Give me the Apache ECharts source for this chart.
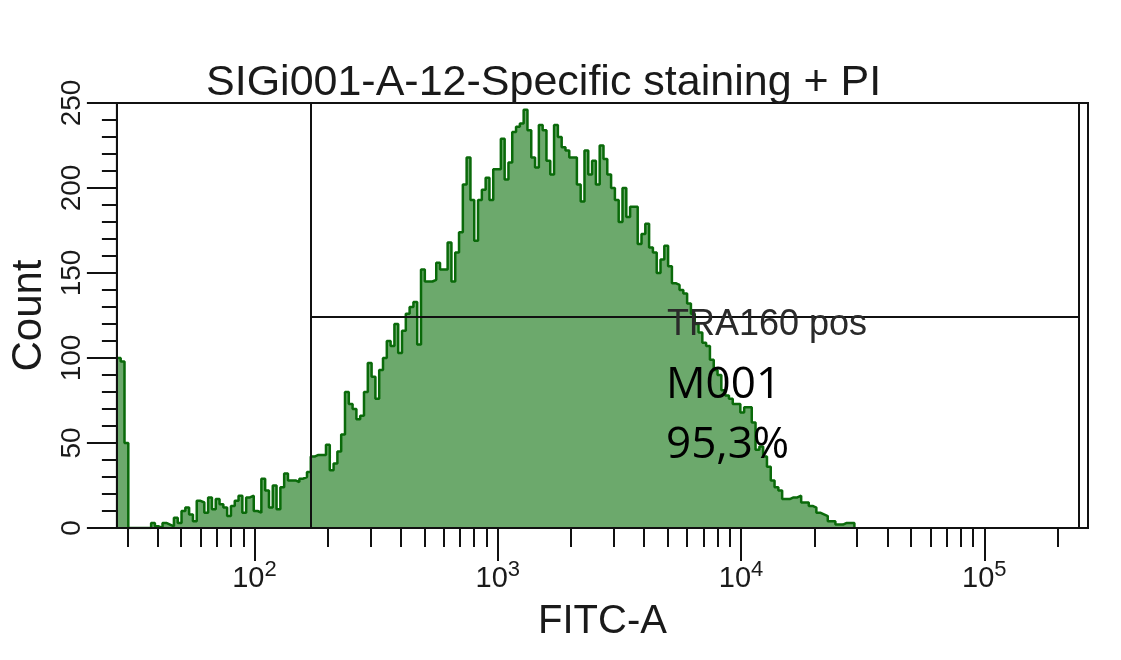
<!DOCTYPE html>
<html>
<head>
<meta charset="utf-8">
<script src="https://cdn.jsdelivr.net/npm/echarts@6/dist/echarts.min.js"></script>
<style>html,body{margin:0;padding:0;background:#fff}#c{width:1121px;height:660px}</style>
</head>
<body>
<div id="c"></div>
<script>
// ---- data ----
var titleText = 'SIGi001-A-12-Specific staining + PI';
var xName = 'FITC-A';
var yName = 'Count';
// histogram counts per log channel (64 channels per decade, starting at FITC-A ≈ 27)
var counts = [
100,98,50,0,0,0,0,0,0,3,1,0,3,2,1,6,3,10,12,8,4,16,15,9,18,11,17,14,12,7,
13,16,19,9,18,19,10,9,29,22,12,25,11,24,32,28,28,27,29,30,33,42,
43,43,43,49,34,38,45,55,80,73,70,64,66,80,97,89,76,93,100,110,107,120,103,116,
126,130,133,108,152,145,145,146,156,152,152,168,145,162,174,202,218,193,169,193,
199,206,193,211,211,229,205,215,233,236,238,246,234,218,212,237,234,216,208,237,
230,224,222,218,218,202,192,222,208,216,202,225,217,208,200,193,180,200,183,189,
189,167,173,179,165,162,150,158,166,154,144,143,140,138,132,126,120,115,109,107,
99,93,90,81,78,76,73,73,68,71,71,62,46,48,42,36,28,24,22,17,17,18,18,19,
15,15,13,12,9,8,7,4,4,2,2,3,3,3,0
];
var xMinVal = 27.2;          // left edge of display (FITC-A)
var xMaxVal = 266700;        // right edge of display
var channelsPerDecade = 64;
var majorTicks = [100, 1000, 10000, 100000];
var majorExp = ['2', '3', '4', '5'];
var minorTicks = [30,40,50,60,70,80,90,200,300,400,500,600,700,800,900,
  2000,3000,4000,5000,6000,7000,8000,9000,20000,30000,40000,50000,60000,70000,80000,90000,200000];
var gateLow = 170, gateHigh = 247000, gateLevel = 124;
var markerName = 'TRA160 pos';
var markerId = 'M001';
var markerPct = '95,3%';

// ---- build ----
var L = Math.log10;
var xMin = L(xMinVal), xMax = L(xMaxVal);
var histData = counts.map(function (c, i) { return [xMin + i / channelsPerDecade, c]; });

var chart = echarts.init(document.getElementById('c'));
var axisFont = 'Liberation Sans';
var expMap = {};
majorTicks.forEach(function (v, i) { expMap[L(v).toFixed(4)] = majorExp[i]; });

chart.setOption({
  animation: false,
  backgroundColor: '#fff',
  title: {
    text: titleText, left: 201, top: 57,
    textStyle: {fontFamily: axisFont, fontSize: 43, fontWeight: 'normal', color: '#1a1a1a'}
  },
  grid: {left: 114, right: 33, top: 103, bottom: 132, show: true, borderColor: '#111', borderWidth: 2, containLabel: false},
  xAxis: [{
    type: 'value', min: xMin, max: xMax, z: 5,
    axisLine: {lineStyle: {color: '#111', width: 2}},
    axisTick: {show: true, customValues: minorTicks.map(L), length: 19, lineStyle: {color: '#111', width: 2}},
    axisLabel: {show: false}, splitLine: {show: false}
  }, {
    type: 'value', min: xMin, max: xMax, position: 'bottom', z: 5,
    name: xName, nameLocation: 'middle', nameGap: 66,
    nameTextStyle: {fontFamily: axisFont, fontSize: 40, color: '#1a1a1a'},
    axisLine: {show: false},
    axisTick: {show: true, customValues: majorTicks.map(L), length: 33, lineStyle: {color: '#111', width: 2}},
    axisLabel: {
      show: true, customValues: majorTicks.map(L), margin: 31,
      formatter: function (v) { return '{b|10}{s|' + (expMap[v.toFixed(4)] || '') + '}'; },
      rich: {
        b: {fontFamily: axisFont, fontSize: 29, color: '#1a1a1a', lineHeight: 34, verticalAlign: 'bottom'},
        s: {fontFamily: axisFont, fontSize: 22, color: '#1a1a1a', lineHeight: 34, verticalAlign: 'top', padding: [0, 0, 16, 0]}
      }
    },
    splitLine: {show: false}
  }],
  yAxis: [{
    type: 'value', min: 0, max: 250, interval: 10, z: 5,
    axisLine: {show: true, lineStyle: {color: '#111', width: 2}},
    axisTick: {show: true, length: 15, lineStyle: {color: '#111', width: 2}},
    axisLabel: {show: false}, splitLine: {show: false}
  }, {
    type: 'value', min: 0, max: 250, interval: 50, position: 'left', z: 5,
    name: yName, nameLocation: 'middle', nameGap: 64, nameRotate: 90,
    nameTextStyle: {fontFamily: axisFont, fontSize: 42, color: '#1a1a1a'},
    axisLine: {show: false},
    axisTick: {show: true, length: 30, lineStyle: {color: '#111', width: 2}},
    axisLabel: {show: true, rotate: 90, margin: 31, fontFamily: axisFont, fontSize: 28, color: '#1a1a1a'},
    splitLine: {show: false}
  }],
  series: [{
    type: 'line', step: 'end', data: histData, symbol: 'none', xAxisIndex: 0, yAxisIndex: 0,
    lineStyle: {color: '#0a6a0a', width: 2.5},
    areaStyle: {color: '#6ca96c', opacity: 1},
    z: 2
  }, {
    type: 'line', data: [], xAxisIndex: 0, yAxisIndex: 0, z: 6,
    markLine: {
      silent: true, symbol: ['none', 'none'], label: {show: false},
      lineStyle: {color: '#111', width: 2, type: 'solid'},
      data: [
        {xAxis: L(gateLow)},
        {xAxis: L(gateHigh)},
        [{coord: [L(gateLow), gateLevel]}, {coord: [L(gateHigh), gateLevel]}]
      ]
    }
  }],
  graphic: [
    {type: 'text', left: 667, top: 307, z: 10, style: {text: markerName, font: '36px "Liberation Sans"', fill: '#2a2a2a'}},
    {type: 'text', left: 666, top: 363, z: 10, style: {text: markerId, font: '44px "Open Sans"', fill: '#000'}},
    {type: 'text', left: 666, top: 423, z: 10, style: {text: markerPct, font: '44px "Open Sans"', fill: '#000'}}
  ]
});
</script>
</body>
</html>
